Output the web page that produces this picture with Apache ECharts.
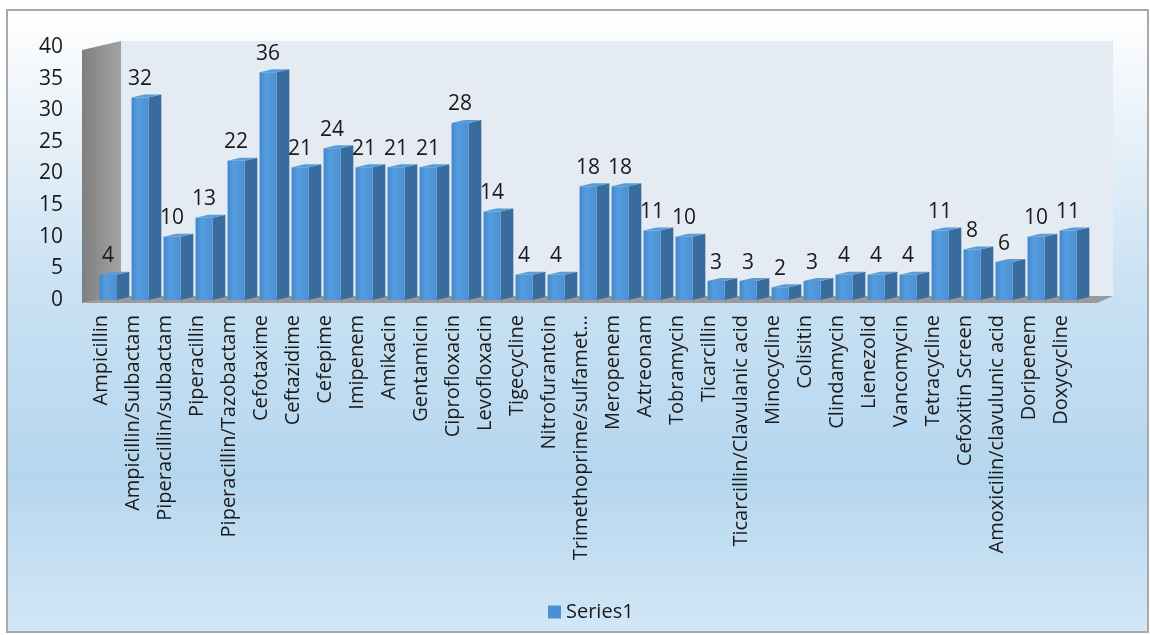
<!DOCTYPE html>
<html>
<head>
<meta charset="utf-8">
<script src="https://cdn.jsdelivr.net/npm/echarts@6/dist/echarts.min.js"></script>
<style>
  html, body { margin: 0; padding: 0; background: #ffffff; }
  #chart { width: 1150px; height: 635px; }
</style>
</head>
<body>
<div id="chart"></div>
<script>
// antibiotics (x categories)
const drugs = ['Ampicillin', 'Ampicillin/Sulbactam', 'Piperacillin/sulbactam', 'Piperacillin',
    'Piperacillin/Tazobactam', 'Cefotaxime', 'Ceftazidime', 'Cefepime', 'Imipenem', 'Amikacin',
    'Gentamicin', 'Ciprofloxacin', 'Levofloxacin', 'Tigecycline', 'Nitrofurantoin',
    'Trimethoprime/sulfamet...', 'Meropenem', 'Aztreonam', 'Tobramycin', 'Ticarcillin',
    'Ticarcillin/Clavulanic acid', 'Minocycline', 'Colisitin', 'Clindamycin', 'Lienezolid',
    'Vancomycin', 'Tetracycline', 'Cefoxitin Screen', 'Amoxicilin/clavulunic acid', 'Doripenem',
    'Doxycycline'];
// Series1 counts
const series1 = [4, 32, 10, 13, 22, 36, 21, 24, 21, 21, 21, 28, 14, 4, 4, 18, 18, 11, 10, 3,
    3, 2, 3, 4, 4, 4, 11, 8, 6, 10, 11];
const yTicks = [0, 5, 10, 15, 20, 25, 30, 35, 40];

const FONT = 'Open Sans';
const chart = echarts.init(document.getElementById('chart'));

// 3d looking column: front face, side face, top face and the value label
function renderBar(params, api) {
    const val = api.value(1);
    const base = api.coord([api.value(0), 0]);
    const top = api.coord([api.value(0), val]);
    const bw = api.size([1, 0])[0];
    const c = base[0] + bw * 0.22;
    const fw = bw * 0.53, sw = bw * 0.4, d = 3;
    const xl = c - fw / 2, xr = c + fw / 2, xs = xr + sw;
    const yt = top[1], yb = base[1];
    return {
        type: 'group',
        children: [
            {
                type: 'polygon',
                shape: { points: [[xr, yt], [xs, yt - d], [xs, yb - d], [xr, yb]] },
                style: { fill: '#386c9c' }
            },
            {
                type: 'rect',
                shape: { x: xl, y: yt, width: fw, height: yb - yt },
                style: {
                    fill: new echarts.graphic.LinearGradient(0, 0, 1, 0, [
                        { offset: 0, color: '#3f86cb' },
                        { offset: 0.35, color: '#559ddf' },
                        { offset: 1, color: '#4a91d3' }
                    ])
                }
            },
            {
                type: 'polygon',
                shape: { points: [[xl, yt], [xr, yt], [xs, yt - d], [xl + sw, yt - d]] },
                style: { fill: '#5a9bd3' }
            },
            {
                type: 'text',
                style: {
                    text: String(val), x: c, y: yt - 8,
                    align: 'center', verticalAlign: 'bottom',
                    fontFamily: FONT, fontSize: 21, fill: '#1a1a1a'
                }
            }
        ]
    };
}

const option = {
    animation: false,
    grid: { left: 85, right: 73, top: 47, bottom: 335 },
    legend: {
        data: [{ name: 'Series1', icon: 'rect' }],
        left: 543, top: 597,
        itemWidth: 13, itemHeight: 13, itemGap: 5,
        textStyle: { fontFamily: FONT, fontSize: 20, color: '#1a1a1a' }
    },
    xAxis: {
        type: 'category',
        data: drugs,
        axisLine: { show: false },
        axisTick: { show: false },
        axisLabel: {
            interval: 0, rotate: 90, margin: 15,
            fontFamily: FONT, fontSize: 20, color: '#1a1a1a'
        }
    },
    yAxis: {
        type: 'value',
        min: yTicks[0], max: yTicks[yTicks.length - 1], interval: yTicks[1] - yTicks[0],
        axisLine: { show: false },
        axisTick: { show: false },
        splitLine: { show: false },
        axisLabel: {
            margin: 22, padding: [10, 0, 0, 0],
            fontFamily: FONT, fontSize: 21, color: '#1a1a1a'
        }
    },
    series: [{
        name: 'Series1',
        type: 'custom',
        renderItem: renderBar,
        itemStyle: { color: '#4a91d3' },
        encode: { x: 0, y: 1 },
        data: series1.map((v, i) => [i, v]),
        z: 5
    }]
};
chart.setOption(option);

// chart frame, back wall, left wall and floor, placed from the axes
const x0 = chart.convertToPixel({ xAxisIndex: 0 }, 0) - 16;
const x1 = chart.convertToPixel({ xAxisIndex: 0 }, drugs.length - 1) + 16;
const y0 = chart.convertToPixel({ yAxisIndex: 0 }, 0);
const y1 = chart.convertToPixel({ yAxisIndex: 0 }, 40);
const dx = 36, dy = 6;
chart.setOption({
    graphic: [
        {
            type: 'rect', z: -10, silent: true,
            shape: { x: 7, y: 10, width: 1141, height: 622 },
            style: {
                stroke: '#a9a9a9', lineWidth: 2,
                fill: new echarts.graphic.LinearGradient(0, 0, 0, 1, [
                    { offset: 0, color: '#ffffff' },
                    { offset: 0.08, color: '#f6f9fc' },
                    { offset: 0.45, color: '#c9e1f3' },
                    { offset: 0.75, color: '#b5d6ef' },
                    { offset: 1, color: '#d3e7f6' }
                ])
            }
        },
        {
            type: 'rect', z: -9, silent: true,
            shape: { x: x0 + dx, y: y1 - dy, width: x1 - x0, height: y0 - y1 + 2 },
            style: { fill: '#e4ebf3' }
        },
        {
            type: 'polygon', z: -8, silent: true,
            shape: { points: [[x0 - 3, y1 + 3], [x0 + dx, y1 - dy], [x0 + dx, y0 - 4], [x0 - 3, y0 + 3]] },
            style: {
                fill: new echarts.graphic.LinearGradient(0, 0, 1, 0, [
                    { offset: 0, color: '#7f7f7f' },
                    { offset: 1, color: '#a3a3a3' }
                ])
            }
        },
        {
            type: 'polygon', z: -8, silent: true,
            shape: { points: [[x0 - 3, y0 + 3], [x1 + 20, y0 + 3], [x1 + dx, y0 - 4], [x0 + dx, y0 - 4]] },
            style: { fill: '#9b9b9b' }
        }
    ]
});
</script>
</body>
</html>
